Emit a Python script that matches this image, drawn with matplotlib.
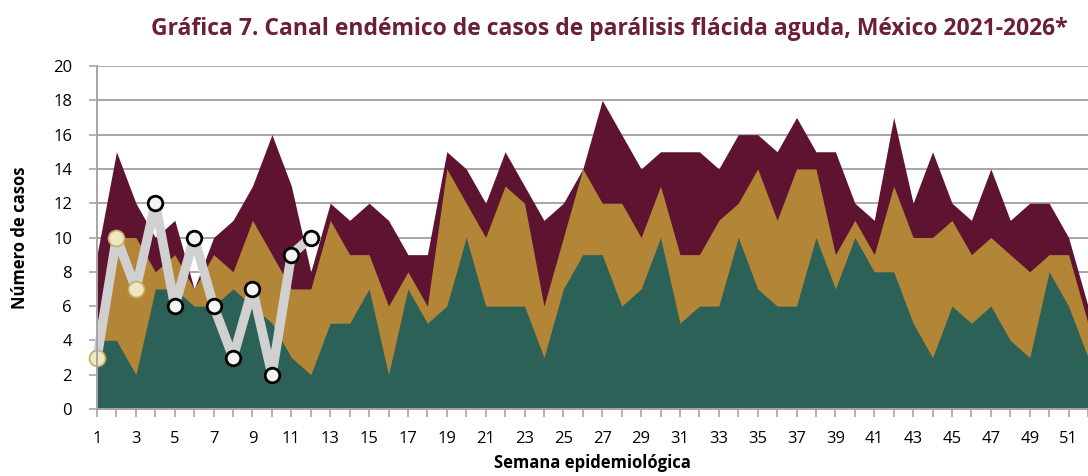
import matplotlib.pyplot as plt
import numpy as np

plt.rcParams["font.family"] = ["Open Sans", "DejaVu Sans"]

# semanas epidemiológicas
semanas = list(range(1, 53))

# límites del canal endémico (acumulados)
exito = [4, 4, 2, 7, 7, 6, 6, 7, 6, 5, 3, 2, 5, 5, 7, 2, 7, 5, 6, 10,
         6, 6, 6, 3, 7, 9, 9, 6, 7, 10, 5, 6, 6, 10, 7, 6, 6, 10, 7, 10,
         8, 8, 5, 3, 6, 5, 6, 4, 3, 8, 6, 3]
seguridad = [5, 10, 10, 8, 9, 7, 9, 8, 11, 9, 7, 7, 11, 9, 9, 6, 8, 6, 14, 12,
             10, 13, 12, 6, 10, 14, 12, 12, 10, 13, 9, 9, 11, 12, 14, 11, 14, 14, 9, 11,
             9, 13, 10, 10, 11, 9, 10, 9, 8, 9, 9, 5]
alerta = [9, 15, 12, 10, 11, 7, 10, 11, 13, 16, 13, 8, 12, 11, 12, 11, 9, 9, 15, 14,
          12, 15, 13, 11, 12, 14, 18, 16, 14, 15, 15, 15, 14, 16, 16, 15, 17, 15, 15, 12,
          11, 17, 12, 15, 12, 11, 14, 11, 12, 12, 10, 6]

# casos 2026
semanas_2026 = list(range(1, 13))
casos_2026 = [3, 10, 7, 12, 6, 10, 6, 3, 7, 2, 9, 10]

c_verde = "#2C6157"
c_oro = "#B38536"
c_guinda = "#5E1430"
c_titulo = "#6B1F3A"
c_gris = "#A6A6A6"

fig = plt.figure(figsize=(10.88, 4.76), dpi=100)
ax = fig.add_axes([0.0892, 0.1408, 0.9108, 0.7205])

x = np.array(semanas)
ax.fill_between(x, 0, alerta, color=c_guinda, lw=0, zorder=2)
ax.fill_between(x, 0, seguridad, color=c_oro, lw=0, zorder=3)
ax.fill_between(x, 0, exito, color=c_verde, lw=0, zorder=4)

ax.plot(semanas_2026, casos_2026, color="#D0D0D0", lw=6.8, zorder=5,
        solid_joinstyle="round", solid_capstyle="butt", clip_on=False)
ax.plot(semanas_2026[3:], casos_2026[3:], ls="none", marker="o", ms=10.5,
        mfc="#F4F4F4", mec="black", mew=2.0, zorder=6, clip_on=False)
ax.plot(semanas_2026[:3], casos_2026[:3], ls="none", marker="o", ms=11.5,
        mfc="#EFE6C4", mec="#C2AE68", mew=1.2, zorder=6, clip_on=False)

ax.set_xlim(1, 51.5)
ax.set_ylim(0, 20)
ax.set_yticks(range(0, 21, 2))
ax.set_xticks(semanas)
ax.set_xticklabels([str(s) if s % 2 == 1 else "" for s in semanas])
ax.yaxis.grid(True, color=c_gris, lw=1.4, zorder=1)
ax.set_axisbelow(True)

for lado in ["top", "right"]:
    ax.spines[lado].set_visible(False)
for lado in ["left", "bottom"]:
    ax.spines[lado].set_color(c_gris)
    ax.spines[lado].set_linewidth(1.4)
    ax.spines[lado].set_zorder(7)

ax.tick_params(axis="both", colors=c_gris, labelcolor="black", labelsize=12,
               length=6, width=1.2)
ax.tick_params(axis="x", pad=10)
ax.tick_params(axis="y", pad=12)

ax.set_xlabel("Semana epidemiológica", fontsize=12, fontweight="bold", labelpad=5)
ax.set_ylabel("Número de casos", fontsize=12, fontweight="bold", labelpad=17)

fig.text(0.56, 0.94, "Gráfica 7. Canal endémico de casos de parálisis flácida aguda, México 2021-2026*",
         ha="center", va="center", fontsize=16.5, fontweight="bold", color=c_titulo)

fig.savefig("out.png", dpi=100)
